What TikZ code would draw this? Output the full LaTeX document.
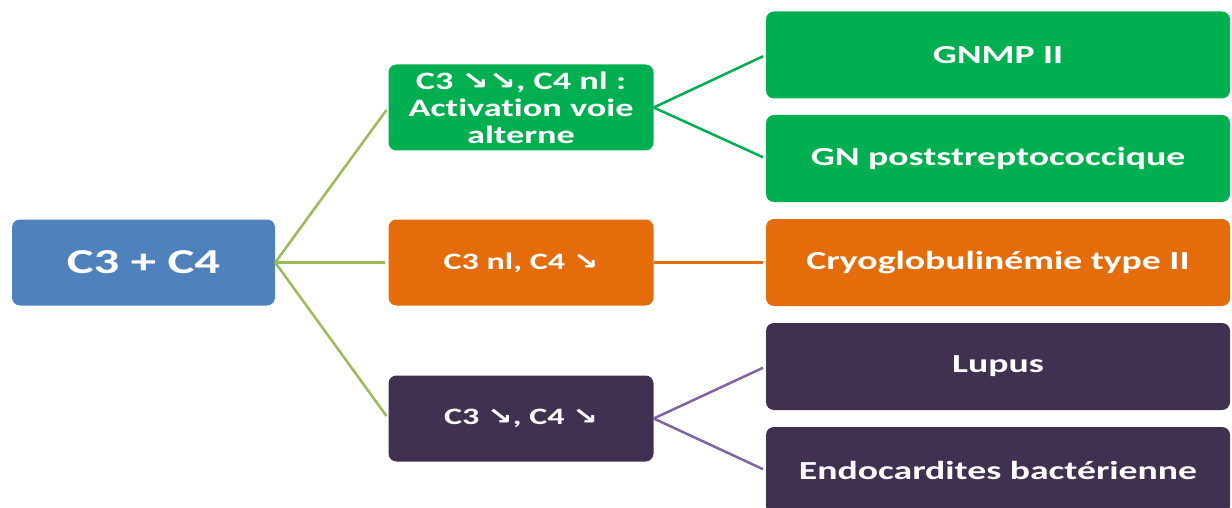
\documentclass[tikz,border=0pt]{standalone}
\usepackage{fontspec}
\setmainfont{Carlito}[FakeStretch=1.45, RawFeature={-liga}]
\newfontfamily\symfnt{DejaVu Sans}[FakeStretch=1.3]
\newcommand{\dnarr}{{\symfnt\bfseries ↘}}
\definecolor{cblue}{HTML}{4F81BD}
\definecolor{cgreen}{HTML}{00B050}
\definecolor{corange}{HTML}{E46C0A}
\definecolor{cpurple}{HTML}{403151}
\definecolor{lgreen}{HTML}{9BBB59}
\definecolor{lpurple}{HTML}{8064A2}
\tikzset{
  box/.style={rounded corners=8pt, text=white, font=\bfseries, align=center, inner sep=0pt},
  rootbox/.style={box, fill=cblue, minimum width=263pt, minimum height=86pt, font=\bfseries\fontsize{35}{38}\selectfont},
  midbox/.style={box, minimum width=265pt, minimum height=86pt},
  rightbox/.style={box, minimum width=464pt, minimum height=87pt, font=\bfseries\fontsize{26}{30}\selectfont},
  link/.style={line width=2.5pt, shorten >=3pt}
}
\begin{document}
\begin{tikzpicture}[x=1pt,y=-1pt]
\useasboundingbox (0,0) rectangle (1232,508);
\clip (0,0) rectangle (1232,508);
\node[rootbox] (root) at (143.5,262.5) {C3 + C4};
\node[midbox, fill=cgreen, font=\bfseries\fontsize{25}{27}\selectfont] (m1) at (521,107.5) {C3 \dnarr\dnarr, C4 nl :\\Activation voie\\alterne};
\node[midbox, fill=corange, font=\bfseries\fontsize{23.5}{26}\selectfont] (m2) at (521,262.5) {C3 nl, C4 \dnarr};
\node[midbox, fill=cpurple, font=\bfseries\fontsize{23.5}{26}\selectfont] (m3) at (521,418.5) {C3 \dnarr, C4 \dnarr};
\node[rightbox, fill=cgreen] (r1) at (998,55) {GNMP II};
\node[rightbox, fill=cgreen] (r2) at (998,158.5) {GN poststreptococcique};
\node[rightbox, fill=corange] (r3) at (998,262.5) {Cryoglobulinémie type II};
\node[rightbox, fill=cpurple] (r4) at (998,366.5) {Lupus};
\node[rightbox, fill=cpurple] (r5) at (998,470.5) {Endocardites bactérienne};
\draw[link, lgreen] (root.east) -- (m1.west);
\draw[link, lgreen] (root.east) -- (m2.west);
\draw[link, lgreen] (root.east) -- (m3.west);
\draw[link, cgreen] (m1.east) -- (r1.west);
\draw[link, cgreen] (m1.east) -- (r2.west);
\draw[link, corange] (m2.east) -- (r3.west);
\draw[link, lpurple] (m3.east) -- (r4.west);
\draw[link, lpurple] (m3.east) -- (r5.west);
\end{tikzpicture}
\end{document}
